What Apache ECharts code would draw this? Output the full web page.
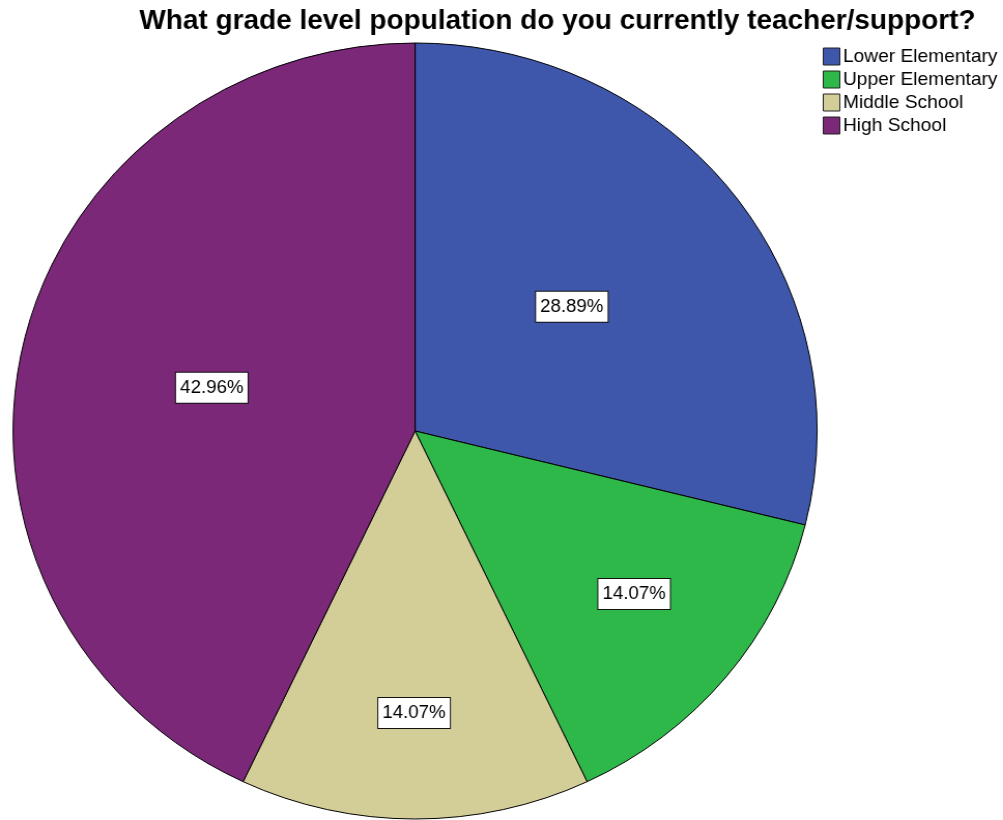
<!DOCTYPE html>
<html><head><meta charset="utf-8">
<script src="https://cdn.jsdelivr.net/npm/echarts@6/dist/echarts.min.js"></script>
<style>html,body{margin:0;padding:0;background:#fff;overflow:hidden}
#c{width:968px;height:820px;transform:scaleX(1.0362);transform-origin:0 0}</style>
</head><body><div id="c"></div>
<script>
const titleText = 'What grade level population do you currently teacher/support?';
const categories = ['Lower Elementary', 'Upper Elementary', 'Middle School', 'High School'];
const percents = [28.89, 14.07, 14.07, 42.96];
const colors = ['#3e57ab', '#2eb84a', '#d3ce98', '#7b2878'];
const labelOffsets = [[-4, -3], [59, 38], [-1, 85], [-4, 0]];

const chart = echarts.init(document.getElementById('c'), null, {renderer: 'canvas'});
chart.setOption({
  animation: false,
  title: {
    text: titleText, left: 533, top: 3, textAlign: 'center',
    textStyle: {fontFamily: 'Liberation Sans, Arial', fontWeight: 'bold', fontSize: 27, color: '#000'}
  },
  legend: {
    orient: 'vertical', left: 789, top: 42,
    itemWidth: 16, itemHeight: 17, itemGap: 4,
    icon: 'rect',
    textStyle: {fontFamily: 'Liberation Sans, Arial', fontSize: 18.5, color: '#000', padding: [0,0,0,-2]},
    itemStyle: {borderColor: '#222', borderWidth: 1},
    data: categories
  },
  series: [{
    type: 'pie',
    center: [400.6, 431],
    radius: [0, 388],
    startAngle: 90,
    clockwise: true,
    label: {
      show: true, position: 'inside',
      formatter: p => p.value.toFixed(2) + '%',
      fontFamily: 'Liberation Sans, Arial', fontSize: 18, lineHeight: 18, color: '#000',
      backgroundColor: '#fff', borderColor: '#111', borderWidth: 1, padding: [6, 4, 6, 4]
    },
    labelLine: {show: false},
    itemStyle: {borderColor: '#000', borderWidth: 1},
    emphasis: {disabled: true},
    data: categories.map((n, i) => ({
      name: n, value: percents[i],
      itemStyle: {color: colors[i]},
      label: {offset: labelOffsets[i]}
    }))
  }]
});
</script></body></html>
